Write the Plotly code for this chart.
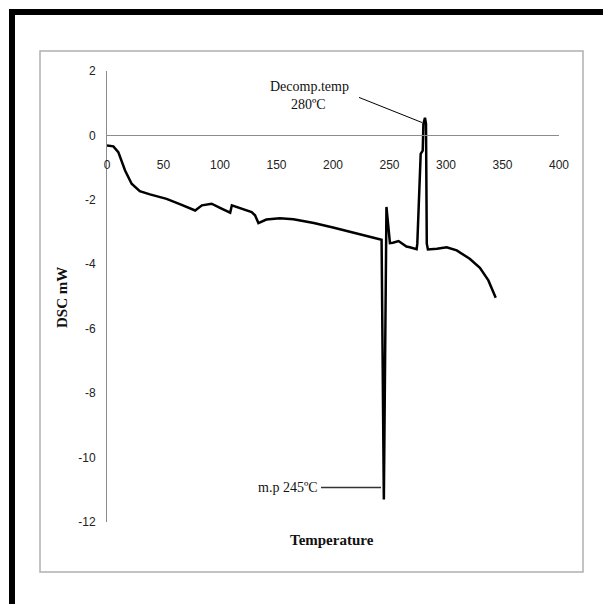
import plotly.graph_objects as go

# ---- data ----
temperature = [0, 5.6, 10, 16, 21.8, 29, 38, 52.7, 65, 78, 84, 92.6, 100, 109, 110.5,
               119, 128, 131, 134, 141, 153, 165, 183, 200, 212.6, 230, 242, 243,
               245, 247.3, 250.4, 253, 258, 262, 265, 268, 274, 274.6, 275.5, 277.6,
               279.4, 280, 281.4, 282.3, 283, 284, 292, 300.6, 309.5, 321, 330, 337.5, 344]
dsc = [-0.31, -0.34, -0.52, -1.09, -1.5, -1.73, -1.83, -1.97, -2.14, -2.33, -2.17, -2.12,
       -2.25, -2.4, -2.17, -2.28, -2.38, -2.48, -2.72, -2.61, -2.57, -2.6, -2.72, -2.86,
       -2.97, -3.12, -3.22, -3.24, -11.3, -2.22, -3.34, -3.33, -3.28, -3.39, -3.45, -3.47,
       -3.53, -3.36, -2.54, -0.57, -0.47, 0.36, 0.55, 0.36, -3.36, -3.54, -3.52, -3.47,
       -3.57, -3.83, -4.11, -4.5, -5.04]

x_ticks = [0, 50, 100, 150, 200, 250, 300, 350, 400]
y_ticks = [2, 0, -2, -4, -6, -8, -10, -12]

decomp_label = ["Decomp.temp", "280ºC"]
decomp_text_pos = [(179.6, 1.52), (178.0, 0.96)]
decomp_line = [(223, 1.18), (278.8, 0.40)]
mp_label = "m.p 245ºC"
mp_line = [(189.4, -10.93), (242.5, -10.93)]

# ---- layout geometry (pixels) ----
W, H = 603, 604
L, R, T, B = 107, 559, 71, 522


def px(x):
    return (x - L) / (R - L)


def py(y):
    return (B - y) / (B - T)


fig = go.Figure()
fig.add_trace(go.Scatter(x=temperature, y=dsc, mode="lines",
                         line=dict(color="black", width=2.5), showlegend=False,
                         hoverinfo="skip"))

tickfont = dict(family="Liberation Sans Narrow, Liberation Sans, Arial", size=12, color="#222")

fig.update_layout(
    width=W, height=H,
    margin=dict(l=L, r=W - R, t=T, b=H - B),
    paper_bgcolor="white", plot_bgcolor="white",
    xaxis=dict(range=[0, 400], tickvals=x_ticks, ticktext=[str(v) for v in x_ticks],
               showgrid=False, zeroline=False, showline=True, linecolor="#8c8c8c",
               linewidth=1, ticks="", anchor="free", position=12 / 14,
               tickfont=tickfont, ticklabelstandoff=18),
    yaxis=dict(range=[-12, 2], tickvals=y_ticks, ticktext=[str(v) for v in y_ticks],
               showgrid=False, zeroline=False, showline=True, linecolor="#8c8c8c",
               linewidth=1, ticks="", tickfont=tickfont, ticklabelstandoff=8),
)

shapes = []
# outer thick black frame (cropped at right/bottom)
shapes.append(dict(type="rect", xref="paper", yref="paper",
                   x0=px(12), x1=px(720), y0=py(720), y1=py(12),
                   line=dict(color="black", width=6), layer="above"))
# inner gray chart-area border
shapes.append(dict(type="rect", xref="paper", yref="paper",
                   x0=px(40), x1=px(583), y0=py(572), y1=py(51),
                   line=dict(color="#b0b0b0", width=1.5), layer="below"))
# annotation leader lines
shapes.append(dict(type="line", xref="x", yref="y",
                   x0=decomp_line[0][0], y0=decomp_line[0][1],
                   x1=decomp_line[1][0], y1=decomp_line[1][1],
                   line=dict(color="black", width=1)))
shapes.append(dict(type="line", xref="x", yref="y",
                   x0=mp_line[0][0], y0=mp_line[0][1],
                   x1=mp_line[1][0], y1=mp_line[1][1],
                   line=dict(color="#333", width=1.5)))
fig.update_layout(shapes=shapes)

serif = "Liberation Serif, Times New Roman, serif"
annotations = []
for txt, (ax, ay) in zip(decomp_label, decomp_text_pos):
    annotations.append(dict(x=ax, y=ay, xref="x", yref="y", text=txt, showarrow=False,
                            xanchor="center", yanchor="middle",
                            font=dict(family=serif, size=14, color="#111")))
annotations.append(dict(x=mp_line[0][0] - 0.5, y=mp_line[0][1], xref="x", yref="y",
                        text=mp_label, showarrow=False, xanchor="right", yanchor="middle",
                        font=dict(family=serif, size=14, color="#111")))
# axis titles
annotations.append(dict(x=px(332), y=py(540), xref="paper", yref="paper",
                        text="<b>Temperature</b>", showarrow=False,
                        xanchor="center", yanchor="middle",
                        font=dict(family=serif, size=15, color="#111")))
annotations.append(dict(x=px(62), y=py(298), xref="paper", yref="paper",
                        text="<b>DSC mW</b>", showarrow=False, textangle=-90,
                        xanchor="center", yanchor="middle",
                        font=dict(family=serif, size=15, color="#111")))
fig.update_layout(annotations=annotations)

fig.write_html("out.html", config={"displayModeBar": False},
               post_script="document.body.style.margin='0';document.body.style.overflow='hidden';")
